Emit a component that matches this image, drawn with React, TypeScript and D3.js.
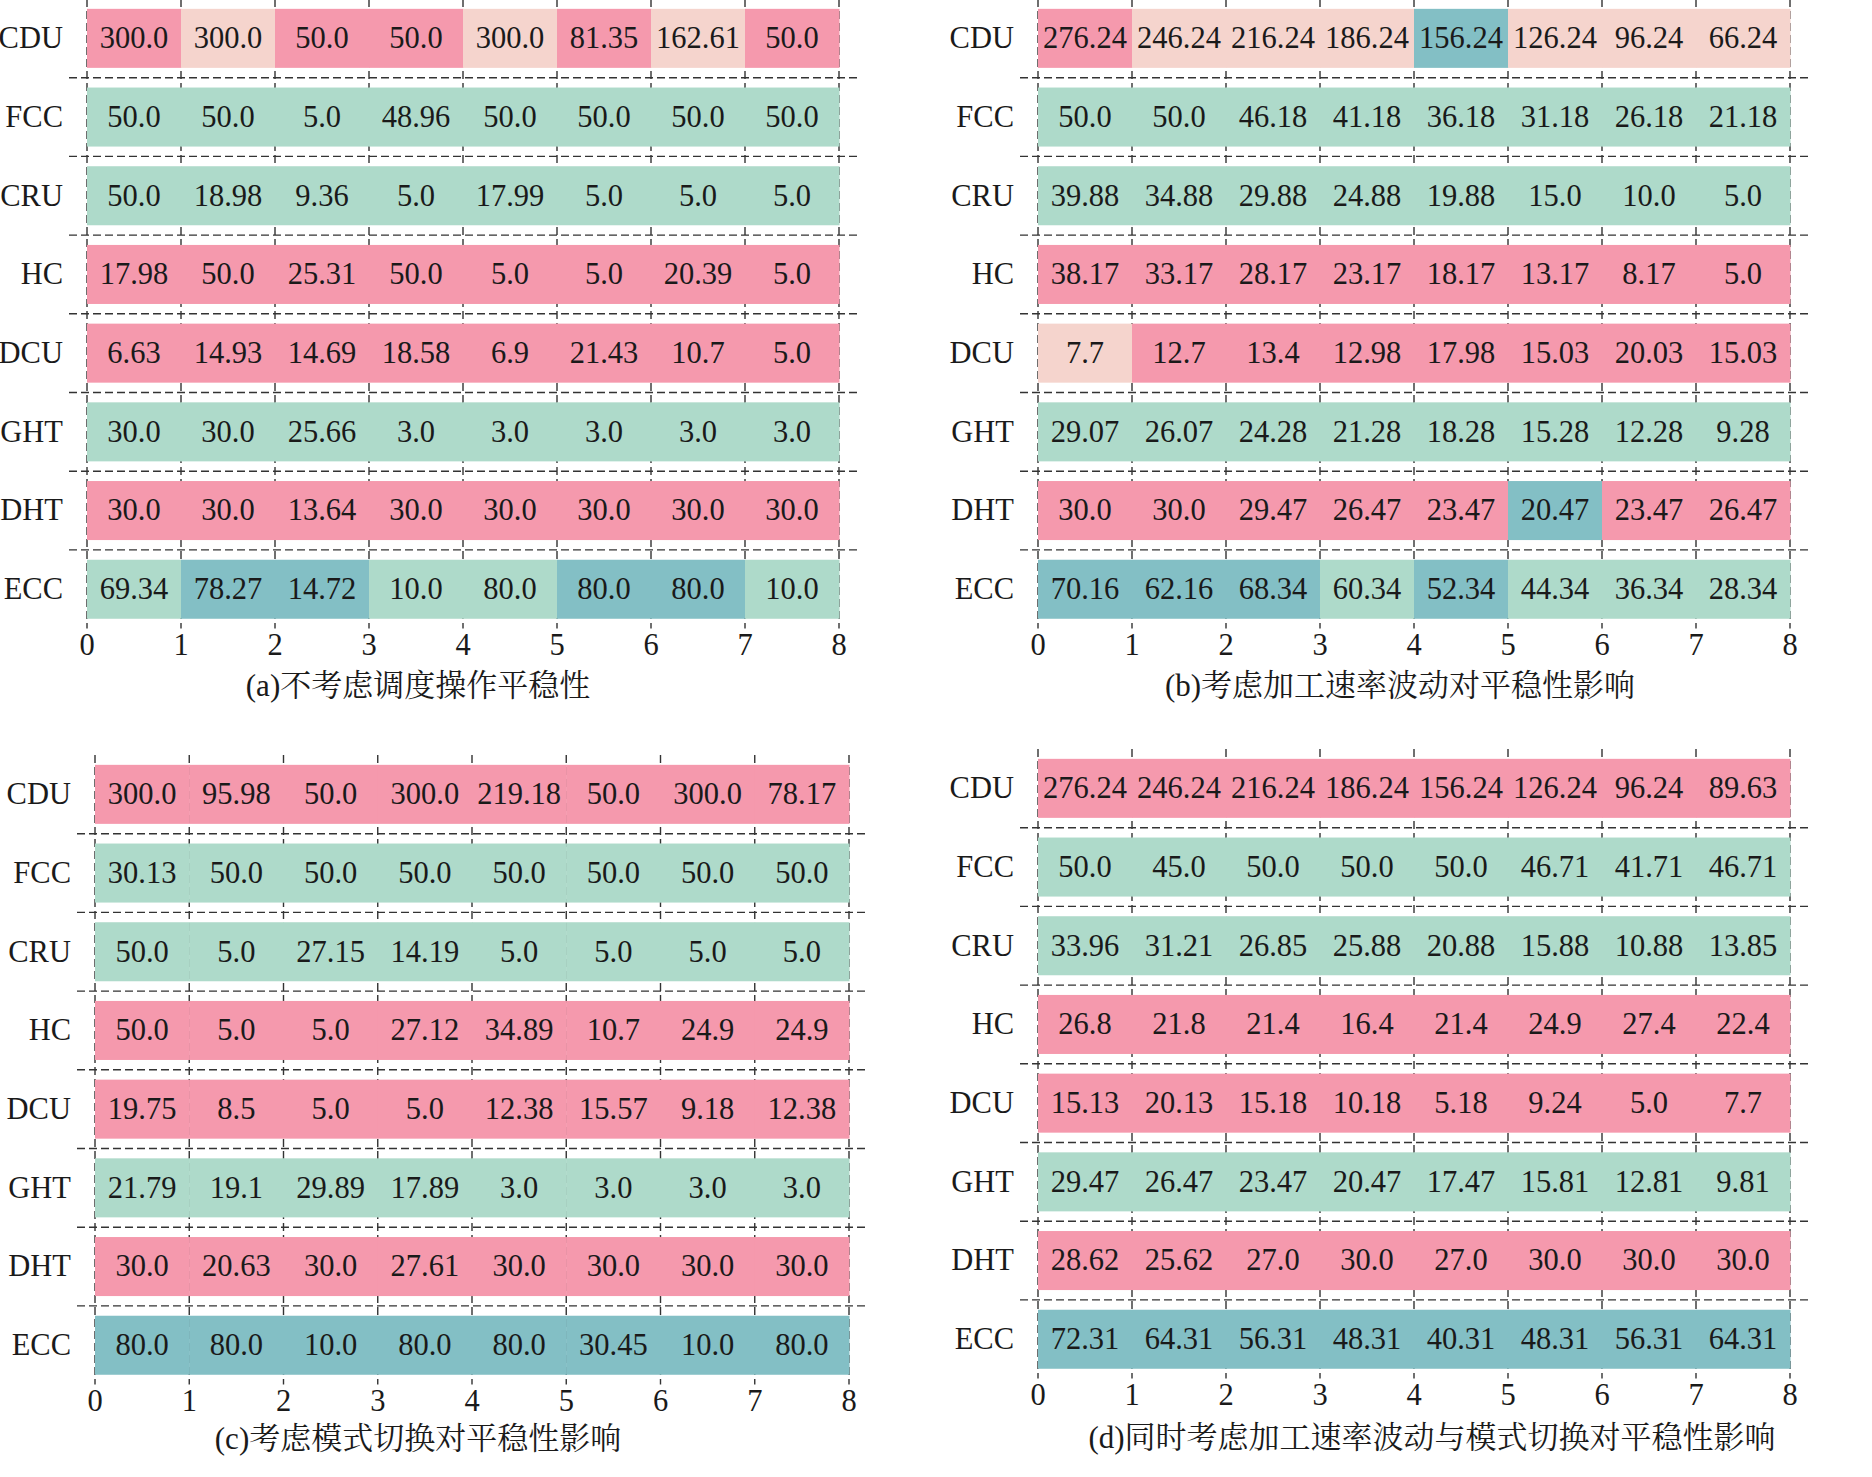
import React from "react";
import * as d3 from "d3";

const categories = ["CDU", "FCC", "CRU", "HC", "DCU", "GHT", "DHT", "ECC"];
const xTicks = [0, 1, 2, 3, 4, 5, 6, 7, 8];

// colour per mode: 0 pink, 1 peach, 2 mint, 3 teal
const modeColors = ["#F599AD", "#F5D4CD", "#AEDACA", "#83BFC5"];

const valuesA = [
  [300.0, 300.0, 50.0, 50.0, 300.0, 81.35, 162.61, 50.0],
  [50.0, 50.0, 5.0, 48.96, 50.0, 50.0, 50.0, 50.0],
  [50.0, 18.98, 9.36, 5.0, 17.99, 5.0, 5.0, 5.0],
  [17.98, 50.0, 25.31, 50.0, 5.0, 5.0, 20.39, 5.0],
  [6.63, 14.93, 14.69, 18.58, 6.9, 21.43, 10.7, 5.0],
  [30.0, 30.0, 25.66, 3.0, 3.0, 3.0, 3.0, 3.0],
  [30.0, 30.0, 13.64, 30.0, 30.0, 30.0, 30.0, 30.0],
  [69.34, 78.27, 14.72, 10.0, 80.0, 80.0, 80.0, 10.0],
];
const modesA = [
  [0, 1, 0, 0, 1, 0, 1, 0],
  [2, 2, 2, 2, 2, 2, 2, 2],
  [2, 2, 2, 2, 2, 2, 2, 2],
  [0, 0, 0, 0, 0, 0, 0, 0],
  [0, 0, 0, 0, 0, 0, 0, 0],
  [2, 2, 2, 2, 2, 2, 2, 2],
  [0, 0, 0, 0, 0, 0, 0, 0],
  [2, 3, 3, 2, 2, 3, 3, 2],
];

const valuesB = [
  [276.24, 246.24, 216.24, 186.24, 156.24, 126.24, 96.24, 66.24],
  [50.0, 50.0, 46.18, 41.18, 36.18, 31.18, 26.18, 21.18],
  [39.88, 34.88, 29.88, 24.88, 19.88, 15.0, 10.0, 5.0],
  [38.17, 33.17, 28.17, 23.17, 18.17, 13.17, 8.17, 5.0],
  [7.7, 12.7, 13.4, 12.98, 17.98, 15.03, 20.03, 15.03],
  [29.07, 26.07, 24.28, 21.28, 18.28, 15.28, 12.28, 9.28],
  [30.0, 30.0, 29.47, 26.47, 23.47, 20.47, 23.47, 26.47],
  [70.16, 62.16, 68.34, 60.34, 52.34, 44.34, 36.34, 28.34],
];
const modesB = [
  [0, 1, 1, 1, 3, 1, 1, 1],
  [2, 2, 2, 2, 2, 2, 2, 2],
  [2, 2, 2, 2, 2, 2, 2, 2],
  [0, 0, 0, 0, 0, 0, 0, 0],
  [1, 0, 0, 0, 0, 0, 0, 0],
  [2, 2, 2, 2, 2, 2, 2, 2],
  [0, 0, 0, 0, 0, 3, 0, 0],
  [3, 3, 3, 2, 3, 2, 2, 2],
];

const valuesC = [
  [300.0, 95.98, 50.0, 300.0, 219.18, 50.0, 300.0, 78.17],
  [30.13, 50.0, 50.0, 50.0, 50.0, 50.0, 50.0, 50.0],
  [50.0, 5.0, 27.15, 14.19, 5.0, 5.0, 5.0, 5.0],
  [50.0, 5.0, 5.0, 27.12, 34.89, 10.7, 24.9, 24.9],
  [19.75, 8.5, 5.0, 5.0, 12.38, 15.57, 9.18, 12.38],
  [21.79, 19.1, 29.89, 17.89, 3.0, 3.0, 3.0, 3.0],
  [30.0, 20.63, 30.0, 27.61, 30.0, 30.0, 30.0, 30.0],
  [80.0, 80.0, 10.0, 80.0, 80.0, 30.45, 10.0, 80.0],
];
const modesC = [
  [0, 0, 0, 0, 0, 0, 0, 0],
  [2, 2, 2, 2, 2, 2, 2, 2],
  [2, 2, 2, 2, 2, 2, 2, 2],
  [0, 0, 0, 0, 0, 0, 0, 0],
  [0, 0, 0, 0, 0, 0, 0, 0],
  [2, 2, 2, 2, 2, 2, 2, 2],
  [0, 0, 0, 0, 0, 0, 0, 0],
  [3, 3, 3, 3, 3, 3, 3, 3],
];

const valuesD = [
  [276.24, 246.24, 216.24, 186.24, 156.24, 126.24, 96.24, 89.63],
  [50.0, 45.0, 50.0, 50.0, 50.0, 46.71, 41.71, 46.71],
  [33.96, 31.21, 26.85, 25.88, 20.88, 15.88, 10.88, 13.85],
  [26.8, 21.8, 21.4, 16.4, 21.4, 24.9, 27.4, 22.4],
  [15.13, 20.13, 15.18, 10.18, 5.18, 9.24, 5.0, 7.7],
  [29.47, 26.47, 23.47, 20.47, 17.47, 15.81, 12.81, 9.81],
  [28.62, 25.62, 27.0, 30.0, 27.0, 30.0, 30.0, 30.0],
  [72.31, 64.31, 56.31, 48.31, 40.31, 48.31, 56.31, 64.31],
];
const modesD = modesC;

const titleA = "(a)不考虑调度操作平稳性";
const titleB = "(b)考虑加工速率波动对平稳性影响";
const titleC = "(c)考虑模式切换对平稳性影响";
const titleD = "(d)同时考虑加工速率波动与模式切换对平稳性影响";

const FONT = "'Liberation Serif', 'Times New Roman', 'Noto Serif CJK SC', 'Noto Sans CJK SC', serif";
const FS = 30.5;

function fmt(v: number): string {
  let s = v.toFixed(2);
  if (s.endsWith("0")) s = s.slice(0, -1);
  return s;
}

type PanelProps = {
  values: number[][];
  modes: number[][];
  title: string;
  x0: number;
  x1: number;
  top: number;
  titleX: number;
  titleY: number;
};

function Panel({ values, modes, title, x0, x1, top, titleX, titleY }: PanelProps) {
  const step = 78.7;
  const bottom = top + step * categories.length;
  const x = d3.scaleLinear().domain([0, 8]).range([x0, x1]);
  const y = d3
    .scaleBand<string>()
    .domain(categories)
    .range([top, bottom])
    .paddingInner(0.25)
    .paddingOuter(0.125);
  const bw = y.bandwidth();
  const ext = 18;
  return (
    <g>
      {xTicks.map((t) => (
        <line
          key={"v" + t}
          x1={x(t)}
          x2={x(t)}
          y1={top}
          y2={bottom}
          stroke="#333"
          strokeWidth={1.4}
          strokeDasharray="8,4"
        />
      ))}
      {categories.map((c, i) =>
        values[i].map((v, j) => (
          <rect
            key={c + j}
            x={x(j)}
            y={y(c)!}
            width={x(j + 1) - x(j) + 0.5}
            height={bw}
            fill={modeColors[modes[i][j]]}
          />
        ))
      )}
      {categories.slice(1).map((c, i) => {
        const yy = (y(categories[i])! + bw + y(c)!) / 2;
        return (
          <line
            key={"h" + c}
            x1={x0 - ext}
            x2={x1 + ext}
            y1={yy}
            y2={yy}
            stroke="#333"
            strokeWidth={1.4}
            strokeDasharray="8,4"
          />
        );
      })}
      {categories.map((c, i) =>
        values[i].map((v, j) => (
          <text
            key={"t" + c + j}
            x={x(j + 0.5)}
            y={y(c)! + bw / 2}
            dy="0.32em"
            textAnchor="middle"
            fontFamily={FONT}
            fontSize={FS}
            fill="#1a1a1a"
          >
            {fmt(v)}
          </text>
        ))
      )}
      {categories.map((c) => (
        <text
          key={"c" + c}
          x={x0 - 24}
          y={y(c)! + bw / 2}
          dy="0.32em"
          textAnchor="end"
          fontFamily={FONT}
          fontSize={FS}
          fill="#1a1a1a"
        >
          {c}
        </text>
      ))}
      {xTicks.map((t) => (
        <text
          key={"xt" + t}
          x={x(t)}
          y={bottom + 16}
          dy="0.33em"
          textAnchor="middle"
          fontFamily={FONT}
          fontSize={FS}
          fill="#1a1a1a"
        >
          {t}
        </text>
      ))}
      <text
        x={titleX}
        y={titleY}
        dy="0.35em"
        textAnchor="middle"
        fontFamily={FONT}
        fontSize={31}
        fill="#1a1a1a"
      >
        {title}
      </text>
    </g>
  );
}

export default function App() {
  return (
    <svg
      width={1872}
      height={1477}
      style={{ position: "absolute", left: 0, top: 0, background: "#fff" }}
    >
      <rect width={1872} height={1477} fill="#fff" />
      <Panel values={valuesA} modes={modesA} title={titleA} x0={87} x1={839} top={-1} titleX={418} titleY={685} />
      <Panel values={valuesB} modes={modesB} title={titleB} x0={1038} x1={1790} top={-1} titleX={1400} titleY={685} />
      <Panel values={valuesC} modes={modesC} title={titleC} x0={95} x1={849} top={755} titleX={418} titleY={1438} />
      <Panel values={valuesD} modes={modesD} title={titleD} x0={1038} x1={1790} top={749} titleX={1432} titleY={1437} />
    </svg>
  );
}
